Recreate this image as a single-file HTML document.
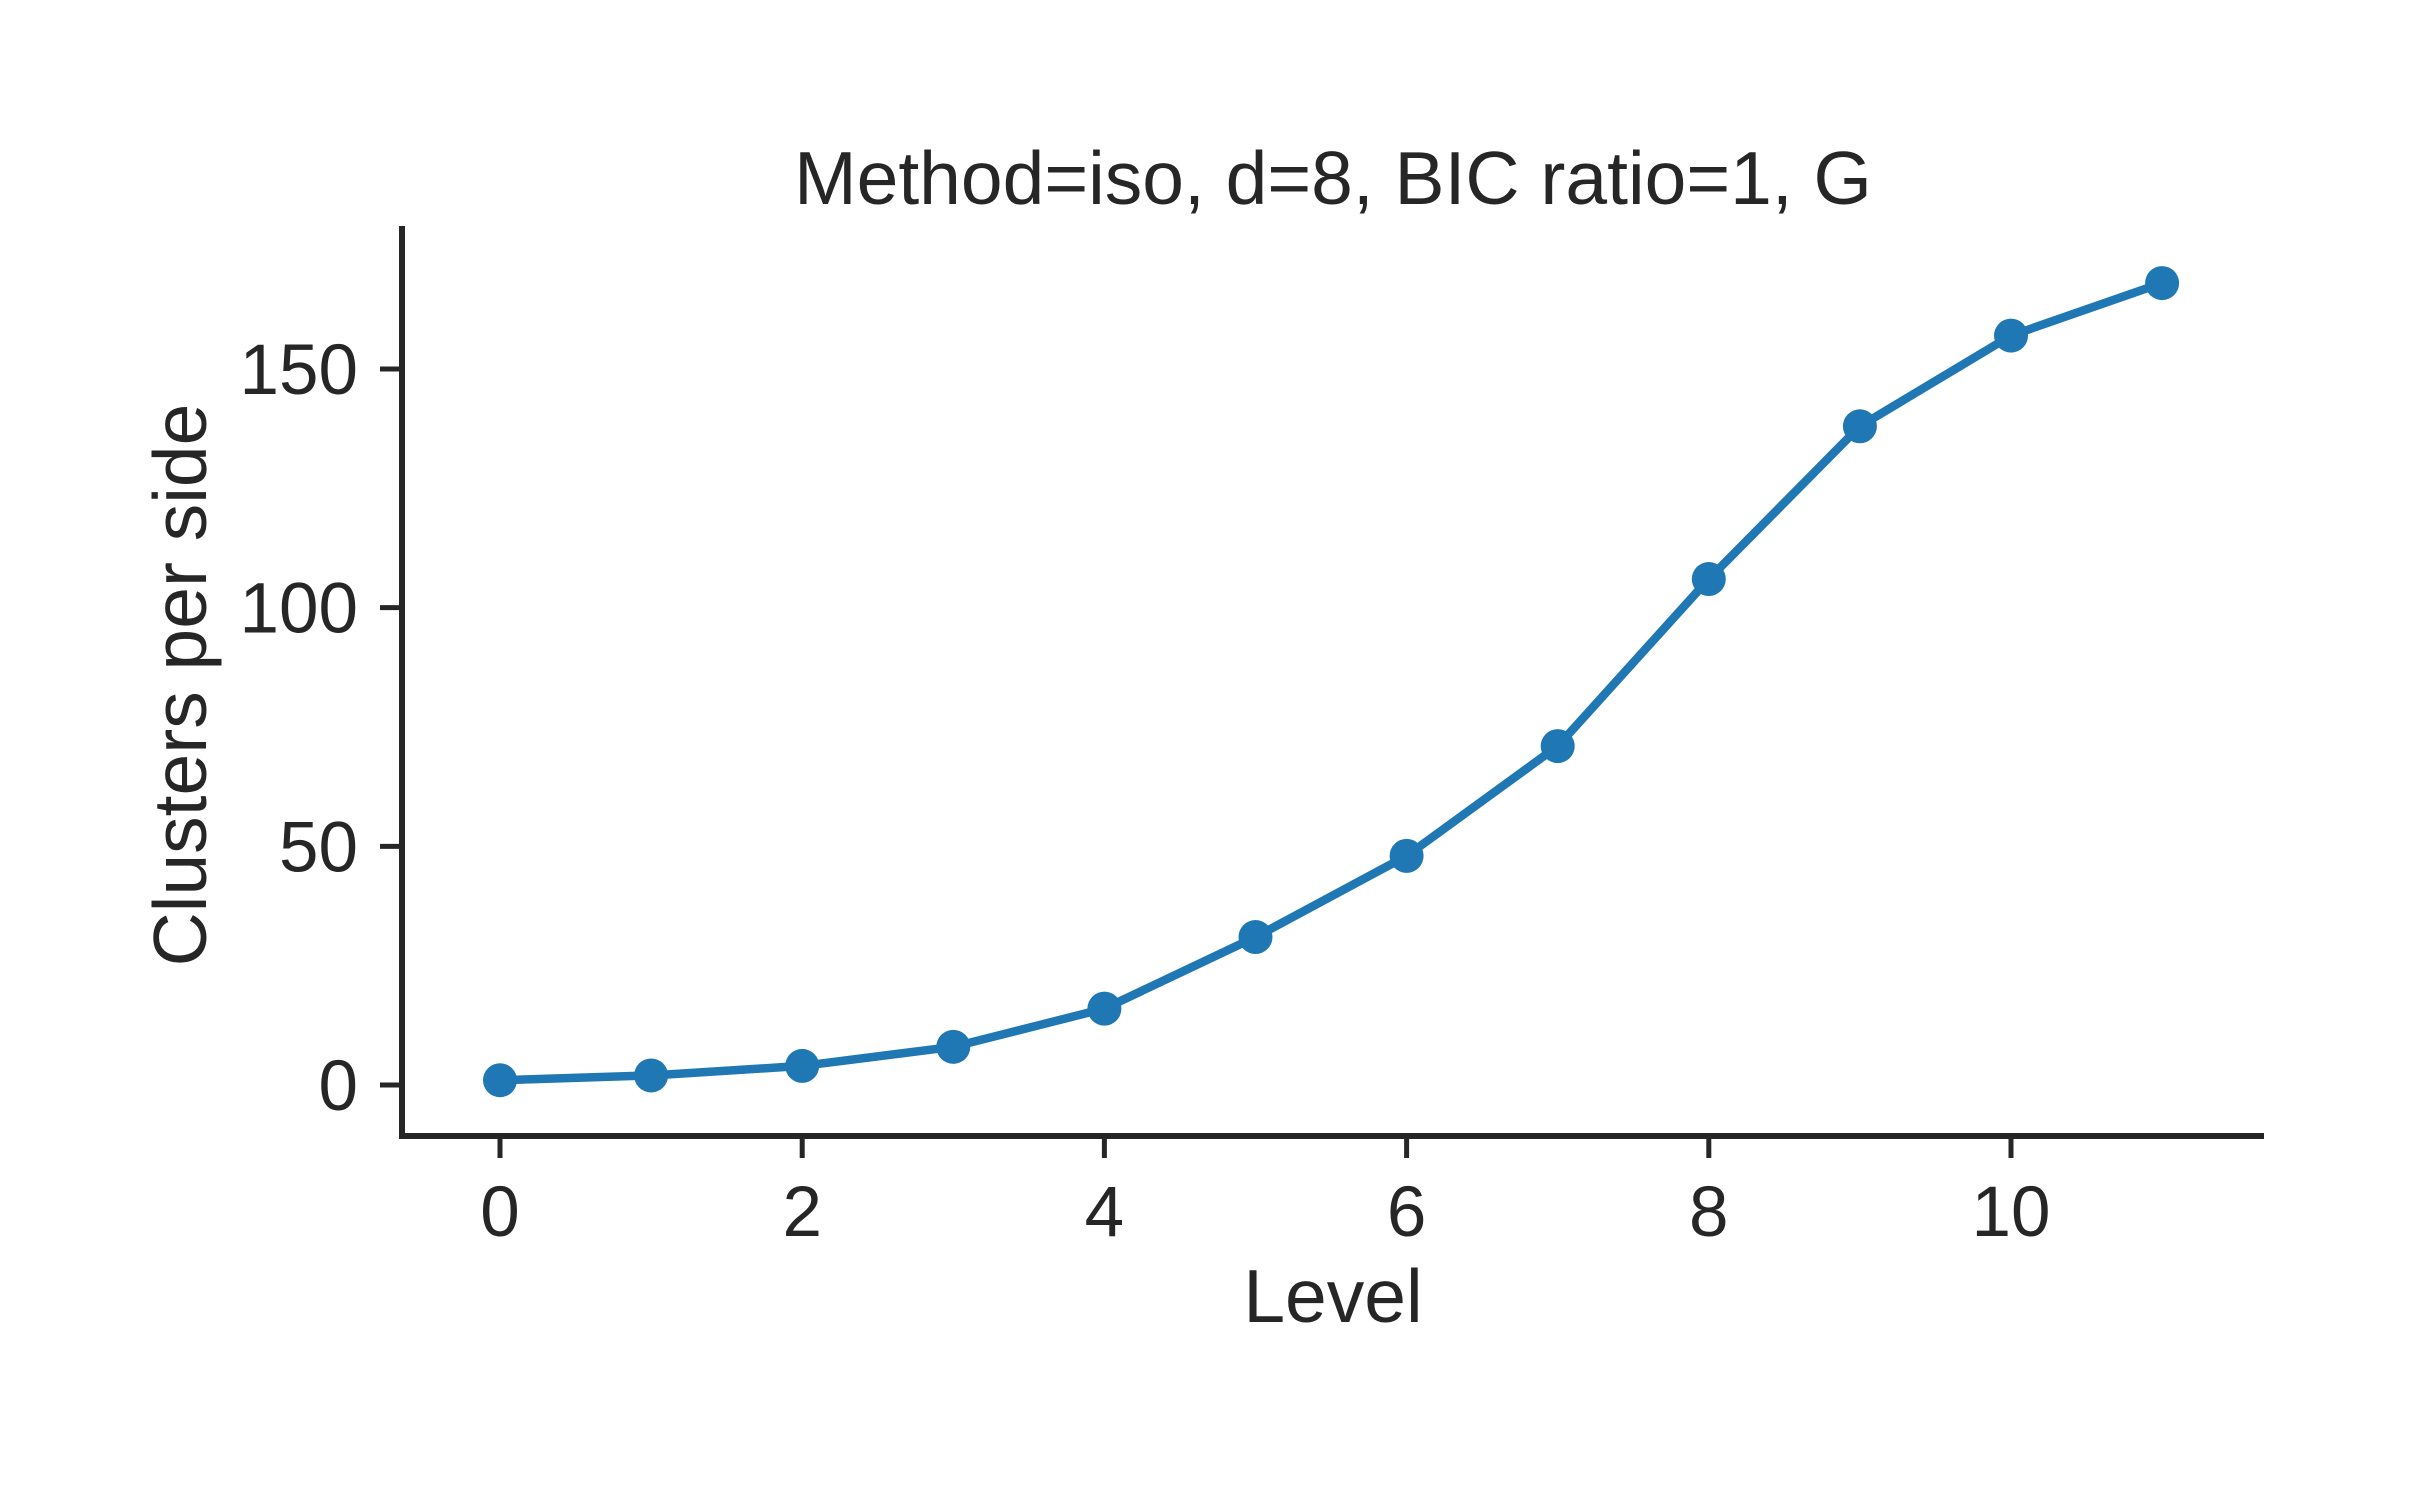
<!DOCTYPE html>
<html><head><meta charset="utf-8"><style>
html,body{margin:0;padding:0;background:#fff;}
svg{display:block;font-family:"Liberation Sans",sans-serif;}
</style></head><body>
<svg id="chart" width="2413" height="1486" viewBox="0 0 2413 1486">
<rect width="2413" height="1486" fill="#fff"/>
<text x="1333" y="204" font-size="75" fill="#262626" text-anchor="middle">Method=iso, d=8, BIC ratio=1, G</text>
<g id="axes"></g>
<g id="marks"></g>
<text x="1333" y="1322" font-size="75" fill="#262626" text-anchor="middle">Level</text>
<text transform="translate(206,685) rotate(-90)" font-size="75" fill="#262626" text-anchor="middle">Clusters per side</text>
</svg>
<script>
const levels=[0,1,2,3,4,5,6,7,8,9,10,11];
const clusters=[1,2,4,8,16,31,48,71,106,138,157,168];
const xTicks=[0,2,4,6,8,10];
const yTicks=[0,50,100,150];
const NS="http://www.w3.org/2000/svg";
function X(v){return 500+v*151.1;}
function Y(v){return 1085-v*(716/150);}
function mk(t,a,p){const e=document.createElementNS(NS,t);for(const k in a)e.setAttribute(k,a[k]);p.appendChild(e);return e;}
const ax=document.getElementById('axes');
const ys=mk('line',{x1:402,y1:226,x2:402,y2:1139,stroke:'#262626','stroke-width':6},ax);


const xs=mk('line',{x1:399,y1:1136,x2:2264,y2:1136,stroke:'#262626','stroke-width':6},ax);


xTicks.forEach(t=>{
 const l=mk('line',{x1:X(t),y1:1136,x2:X(t),y2:1158,stroke:'#262626','stroke-width':5},ax);
 
 
 const tx=mk('text',{x:X(t),y:1236,'font-size':71,fill:'#262626','text-anchor':'middle'},ax);
 tx.textContent=t;
 
 
});
yTicks.forEach(t=>{
 const l=mk('line',{x1:380,y1:Y(t),x2:402,y2:Y(t),stroke:'#262626','stroke-width':5},ax);
 
 
 const tx=mk('text',{x:358,y:Y(t)+25,'font-size':71,fill:'#262626','text-anchor':'end'},ax);
 tx.textContent=t;
 
 
});
const mg=document.getElementById('marks');
const pl=mk('polyline',{points:levels.map((l,i)=>X(l)+','+Y(clusters[i])).join(' '),fill:'none',stroke:'#1f77b4','stroke-width':8.5,'stroke-linejoin':'round'},mg);


levels.forEach((l,i)=>{
 const c=mk('circle',{cx:X(l),cy:Y(clusters[i]),r:17,fill:'#1f77b4'},mg);
 
 
});
</script>
</body></html>
